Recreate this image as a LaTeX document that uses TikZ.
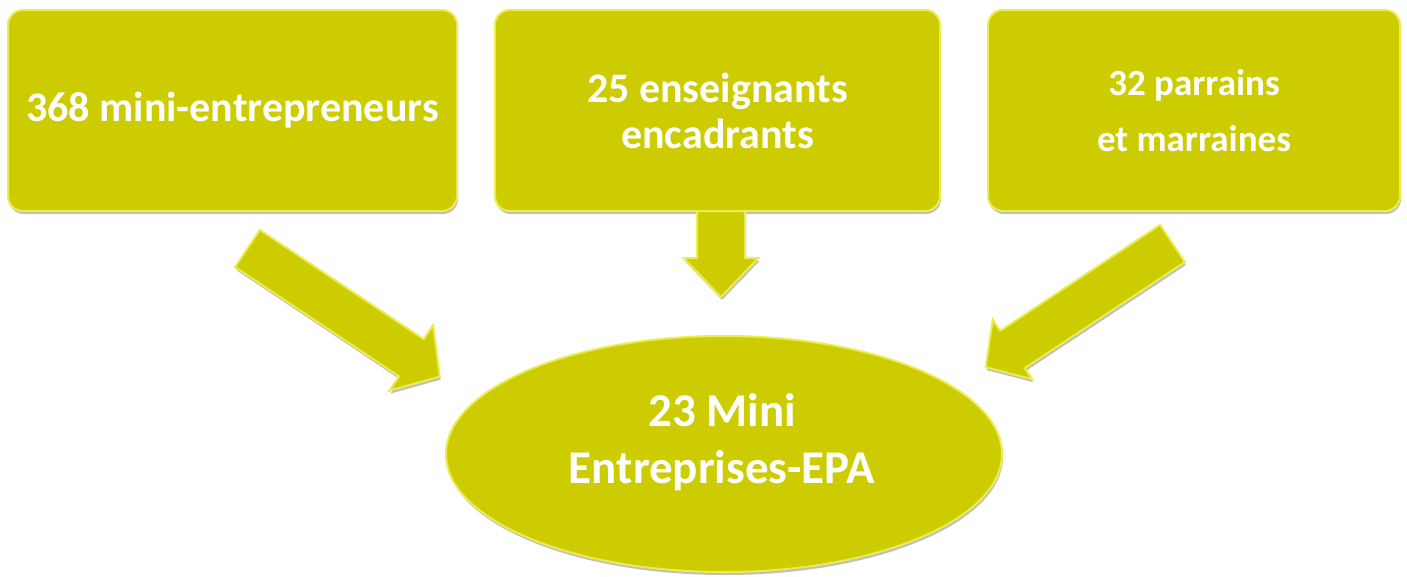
\documentclass[tikz,border=0pt]{standalone}
\usepackage{fontspec}
\setmainfont{Carlito}
\usetikzlibrary{shapes.geometric,shadows}
\definecolor{olive}{HTML}{CCCC00}
\definecolor{bevel}{HTML}{ECEC50}
\newcommand\blockarrow[7]{%
  \begin{scope}[shift={(#1,#2)},rotate=#3]
    \filldraw[arrowshape]
      (0,-#5) -- ({#4-#7},-#5) -- ({#4-#7},-#6) -- (#4,0) --
      ({#4-#7},#6) -- ({#4-#7},#5) -- (0,#5) -- cycle;
  \end{scope}}
\begin{document}
\begin{tikzpicture}[x=1pt,y=1pt,
  shapebase/.style={fill=olive, draw=bevel, line width=2pt,
    drop shadow={shadow xshift=1pt, shadow yshift=-3pt, opacity=0.25, fill=black}},
  box/.style={shapebase, rectangle, rounded corners=15pt, inner sep=0pt,
    minimum height=201pt, text=white, align=center},
  arrowshape/.style={shapebase, line join=miter},
  bigtext/.style={font=\fontsize{42}{46}\selectfont\bfseries},
  midtext/.style={font=\fontsize{37}{56}\selectfont\bfseries},
  ovaltext/.style={font=\fontsize{47}{57}\selectfont\bfseries, text=white, align=center}]
\useasboundingbox (0,0) rectangle (1407,-576);
\fill[white] (0,0) rectangle (1407,-576);

\node[box, bigtext, minimum width=449pt] (b1) at (232.5,-110.5) {368 mini-entrepreneurs};
\node[box, bigtext, minimum width=445pt] (b2) at (717.5,-110.5) {25 enseignants\\encadrants};
\node[box, midtext, minimum width=412pt] (b3) at (1194,-110.5) {32 parrains\\et marraines};

\node[shapebase, ellipse, inner sep=0pt, minimum width=556pt, minimum height=236pt] (e) at (724,-454) {};
\node[ovaltext] (et) at (722,-442) {23 Mini\\Entreprises-EPA};

\blockarrow{247.5}{-248.5}{-33.7}{231}{22.3}{39.4}{34}
\blockarrow{721}{-211}{-90}{86}{24}{37.5}{39}
\blockarrow{1172.5}{-243.5}{-146.5}{224}{22.3}{35.6}{32}
\end{tikzpicture}
\end{document}
